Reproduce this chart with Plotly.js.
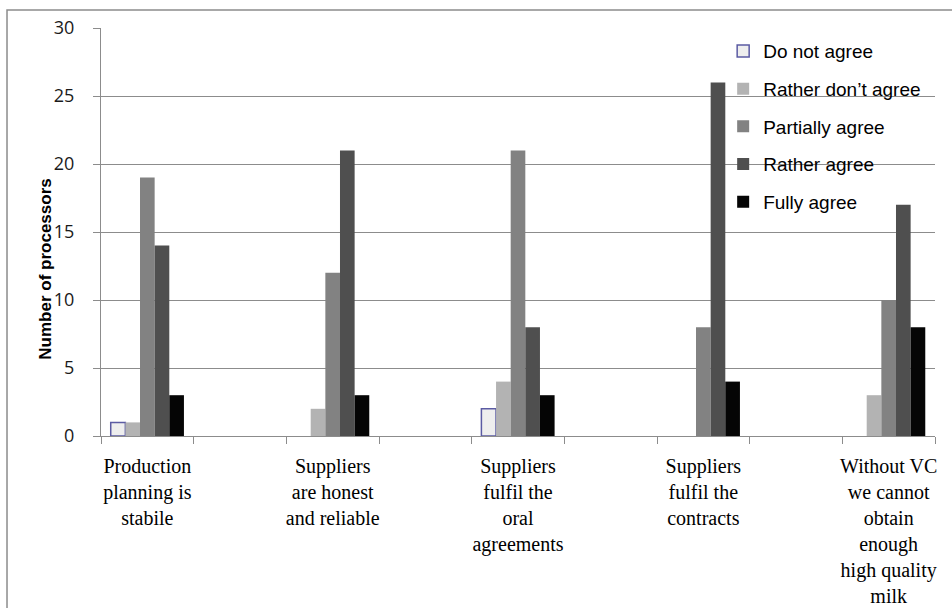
<!DOCTYPE html>
<html>
<head>
<meta charset="utf-8">
<script src="https://cdn.plot.ly/plotly-3.0.1.min.js"></script>
<style>
  html, body { margin: 0; padding: 0; background: #ffffff; }
  #chart { width: 952px; height: 608px; }
</style>
</head>
<body>
<div id="chart"></div>
<script>
// Statements put to the processors, one label line per entry
const statementLines = [
  ["Production", "planning is", "stabile"],
  ["Suppliers", "are honest", "and reliable"],
  ["Suppliers", "fulfil the", "oral", "agreements"],
  ["Suppliers", "fulfil the", "contracts"],
  ["Without VC", "we cannot", "obtain", "enough", "high quality", "milk"]
];

// Answer levels (legend order)
const answerLevels = ["Do not agree", "Rather don\u2019t agree", "Partially agree", "Rather agree", "Fully agree"];

// Number of processors giving each answer, per statement
const doNotAgree      = [1, 0, 2, 0, 0];
const ratherDontAgree = [1, 2, 4, 0, 3];
const partiallyAgree  = [19, 12, 21, 8, 10];
const ratherAgree     = [14, 21, 8, 26, 17];
const fullyAgree      = [3, 3, 3, 4, 8];

const yTicks = [0, 5, 10, 15, 20, 25, 30];

const seriesValues = [doNotAgree, ratherDontAgree, partiallyAgree, ratherAgree, fullyAgree];
const fills   = ["#eeeeee", "#b3b3b3", "#828282", "#4f4f4f", "#050505"];
const borders = ["#5b5ba3", "#b3b3b3", "#828282", "#4f4f4f", "#050505"];
const borderW = [1.5, 0, 0, 0, 0];

// Each statement sits in every other slot of the axis, leaving an empty slot between groups
const slot = statementLines.map((_, i) => i * 2);
const gridColor = "#8c8c8c";

const traces = seriesValues.map((vals, k) => ({
  type: "bar",
  name: answerLevels[k],
  legendgroup: "g" + k,
  x: slot,
  y: vals,
  marker: {
    color: fills[k],
    // no outline for empty answers, so nothing shows on the baseline
    line: { color: borders[k], width: vals.map(v => (v > 0 ? borderW[k] : 0)) }
  },
  hoverinfo: "name+y"
}));

const layout = {
  width: 952,
  height: 608,
  margin: { l: 101, r: 17, t: 28, b: 172 },
  paper_bgcolor: "#ffffff",
  plot_bgcolor: "#ffffff",
  barmode: "group",
  bargap: 0.605,
  bargroupgap: 0,
  font: { family: "Liberation Sans, Arial, sans-serif", color: "#000000" },
  xaxis: {
    range: [-0.5, slot[slot.length - 1] + 0.5],
    tickmode: "array",
    tickvals: slot,
    ticktext: statementLines.map(l => l.join("<br>")),
    ticks: "",
    ticklabelstandoff: 12,
    tickfont: { family: "Liberation Serif, Times New Roman, serif", size: 20, color: "#000000" },
    showgrid: false,
    zeroline: false,
    showline: true,
    linecolor: gridColor,
    linewidth: 1,
    minor: {
      tickmode: "linear",
      tick0: -0.5,
      dtick: 1,
      ticks: "outside",
      ticklen: 7,
      tickcolor: gridColor,
      tickwidth: 1,
      showgrid: false
    },
    fixedrange: true
  },
  yaxis: {
    range: [0, 30],
    tickmode: "array",
    tickvals: yTicks,
    ticktext: yTicks.map(String),
    ticks: "outside",
    ticklen: 7,
    tickcolor: gridColor,
    tickwidth: 1,
    ticklabelstandoff: 15,
    tickfont: { family: "Open Sans, sans-serif", size: 18, color: "#1a1a1a" },
    showgrid: true,
    gridcolor: gridColor,
    gridwidth: 1,
    zeroline: false,
    showline: true,
    linecolor: gridColor,
    linewidth: 1,
    fixedrange: true
  },
  legend: {
    x: 0.746,
    y: 0.99,
    xanchor: "left",
    yanchor: "top",
    bgcolor: "rgba(0,0,0,0)",
    borderwidth: 0,
    tracegroupgap: 10,
    font: { family: "Liberation Sans, Arial, sans-serif", size: 19, color: "#000000" }
  },
  annotations: [{
    text: "Number of processors",
    xref: "paper",
    yref: "paper",
    x: -0.067,
    y: 0.408,
    xanchor: "center",
    yanchor: "middle",
    textangle: -90,
    showarrow: false,
    font: { family: "Liberation Sans, Arial, sans-serif", size: 17, weight: "bold", color: "#000000" }
  }],
  shapes: [
    {
      // chart frame
      type: "rect",
      xref: "paper",
      yref: "paper",
      x0: -0.1127,
      x1: 1.1,
      y0: -1,
      y1: 1.044,
      line: { color: gridColor, width: 1.5 },
      fillcolor: "rgba(0,0,0,0)",
      layer: "below"
    },
    {
      // white backing behind the legend text, hiding the gridlines there
      type: "rect",
      xref: "paper",
      yref: "paper",
      x0: 0.752,
      x1: 0.994,
      y0: 0.62,
      y1: 0.985,
      line: { width: 0 },
      fillcolor: "#ffffff",
      layer: "between"
    }
  ],
  showlegend: true
};

Plotly.newPlot("chart", traces, layout, { displayModeBar: false, staticPlot: true });
</script>
</body>
</html>
